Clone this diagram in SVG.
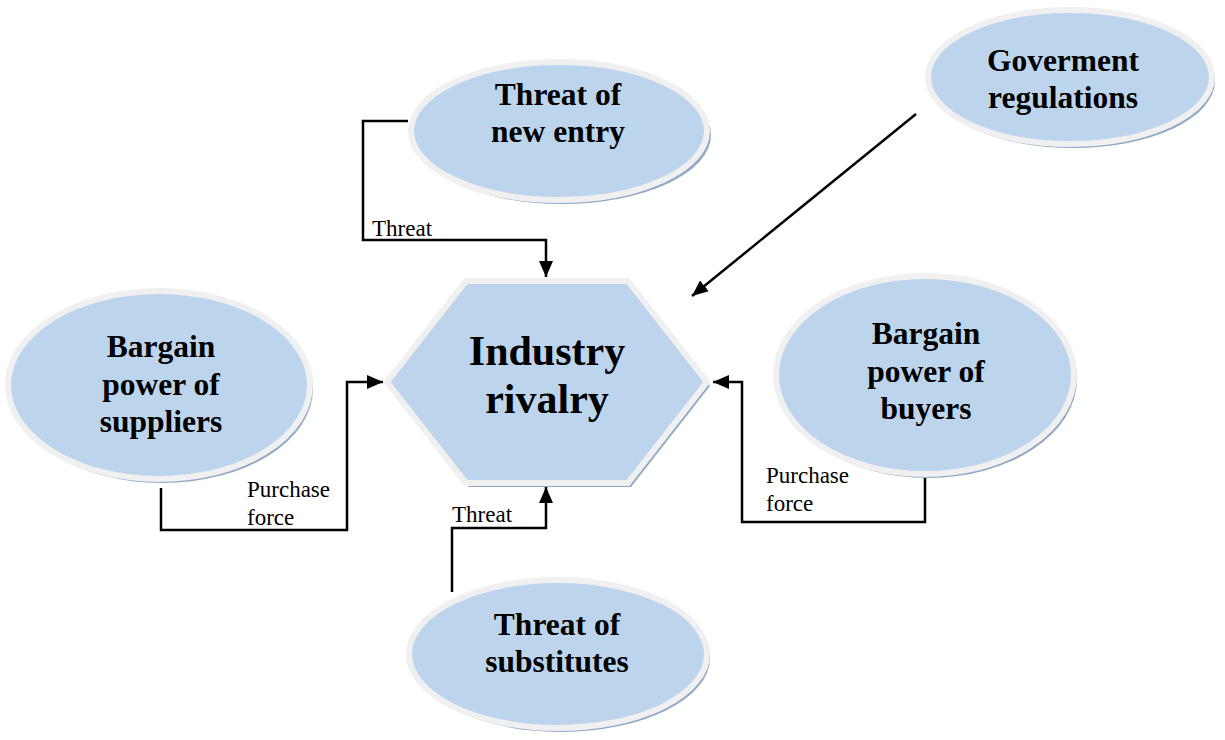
<svg xmlns="http://www.w3.org/2000/svg" width="1225" height="740" viewBox="0 0 1225 740">
<style>
.shadow{fill:#8FA8C4;}
.shape{fill:#BDD5EC;stroke:#F0F0F0;stroke-width:6;}
.node{font-family:"Liberation Serif","Times New Roman",serif;font-weight:bold;font-size:31.5px;fill:#000;text-anchor:middle;}
.big{font-size:42px;}
.lbl{font-family:"Liberation Serif","Times New Roman",serif;font-size:23px;fill:#000;}
.conn{fill:none;stroke:#000;stroke-width:2.5;}
</style>
<defs>
<marker id="arr" markerUnits="userSpaceOnUse" markerWidth="16" markerHeight="14" refX="16" refY="7" orient="auto">
<path d="M0,0 L16,7 L0,14 Z" fill="#000"/>
</marker>
</defs>
<rect width="1225" height="740" fill="#fff"/>

<g id="connectors">
<polyline class="conn" points="408,121 363,121 363,240 546,240 546,277" marker-end="url(#arr)"/>
<polyline class="conn" points="161,488 161,530 347,530 347,382 383,382" marker-end="url(#arr)"/>
<polyline class="conn" points="925,478 925,522 742,522 742,382 713,382" marker-end="url(#arr)"/>
<polyline class="conn" points="452,592 452,528 546,528 546,487" marker-end="url(#arr)"/>
<line class="conn" x1="916" y1="114" x2="692" y2="296" marker-end="url(#arr)"/>
<text class="lbl" x="372" y="236">Threat</text>
<text class="lbl" x="247" y="497">Purchase</text>
<text class="lbl" x="247" y="525">force</text>
<text class="lbl" x="766" y="483">Purchase</text>
<text class="lbl" x="766" y="511">force</text>
<text class="lbl" x="452" y="522">Threat</text>
</g>

<g id="industry-rivalry">
<polygon class="shadow" points="390,386 469,285 631,285 710,386 631,487 469,487"/>
<polygon class="shape" points="387,382 466,281 628,281 707,382 628,483 466,483"/>
<text class="node big" x="547" y="365">Industry</text>
<text class="node big" x="547" y="413">rivalry</text>
</g>

<g id="threat-new-entry">
<ellipse class="shadow" cx="562" cy="135" rx="149" ry="69"/>
<ellipse class="shape" cx="559" cy="131" rx="148" ry="69"/>
<text class="node" x="558" y="105">Threat of</text>
<text class="node" x="558" y="142">new entry</text>
</g>

<g id="government-regulations">
<ellipse class="shadow" cx="1073" cy="81" rx="142" ry="67"/>
<ellipse class="shape" cx="1070" cy="77" rx="142" ry="67"/>
<text class="node" x="1063" y="71">Goverment</text>
<text class="node" x="1063" y="108">regulations</text>
</g>

<g id="bargain-power-suppliers">
<ellipse class="shadow" cx="162" cy="389" rx="151" ry="94"/>
<ellipse class="shape" cx="159" cy="385" rx="151" ry="94"/>
<text class="node" x="161" y="357">Bargain</text>
<text class="node" x="161" y="395">power of</text>
<text class="node" x="161" y="432">suppliers</text>
</g>

<g id="bargain-power-buyers">
<ellipse class="shadow" cx="928" cy="379" rx="149" ry="99"/>
<ellipse class="shape" cx="925" cy="375" rx="149" ry="99"/>
<text class="node" x="926" y="344">Bargain</text>
<text class="node" x="926" y="382">power of</text>
<text class="node" x="926" y="419">buyers</text>
</g>

<g id="threat-substitutes">
<ellipse class="shadow" cx="561" cy="658" rx="149" ry="74"/>
<ellipse class="shape" cx="558" cy="654" rx="149" ry="74"/>
<text class="node" x="557" y="635">Threat of</text>
<text class="node" x="557" y="672">substitutes</text>
</g>
</svg>
